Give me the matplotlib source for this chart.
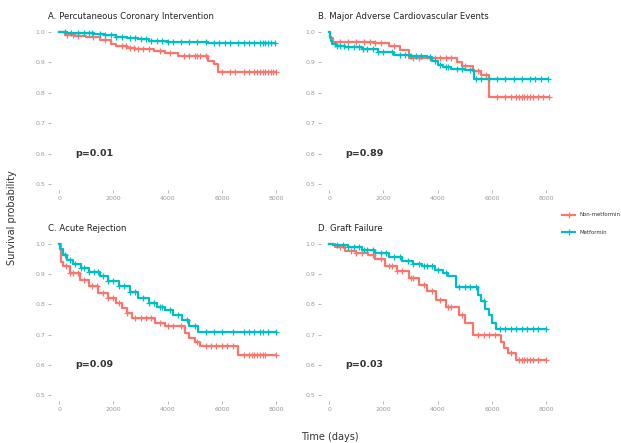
import numpy as np
import matplotlib
matplotlib.use('Agg')
import matplotlib.pyplot as plt

RED = '#F8766D'
CYAN = '#00BFC4'

titles = ['A. Percutaneous Coronary Intervention', 'B. Major Adverse Cardiovascular Events',
          'C. Acute Rejection', 'D. Graft Failure']
pvals = ['p=0.01', 'p=0.89', 'p=0.09', 'p=0.03']
groups = ['Non-metformin', 'Metformin']

# A. PCI
a_non_t = [0, 200, 600, 1000, 1500, 1900, 2100, 2500, 2800, 3500, 3900, 4400, 5500, 5700, 5860]
a_non_s = [1.0, 0.99, 0.988, 0.985, 0.975, 0.96, 0.955, 0.948, 0.943, 0.938, 0.931, 0.922, 0.905, 0.895, 0.87]
a_non_c = [300, 500, 700, 1250, 1700, 2300, 2450, 2600, 2750, 2900, 3100, 3300, 3700, 4100, 4600, 4800,
           5000, 5100, 5200, 5400, 6000, 6300, 6500, 6800, 7000, 7200, 7300, 7400, 7500, 7600, 7700,
           7800, 7900, 8000]
a_met_t = [0, 300, 800, 1300, 1700, 2100, 2500, 2900, 3300, 3700, 4000, 4600, 5500]
a_met_s = [1.0, 0.998, 0.996, 0.994, 0.99, 0.985, 0.98, 0.976, 0.972, 0.969, 0.967, 0.966, 0.965]
a_met_c = [200, 450, 700, 900, 1100, 1200, 1500, 1700, 1900, 2100, 2300, 2600, 2800, 3000, 3200, 3400,
           3600, 3800, 4000, 4200, 4500, 4800, 5100, 5400, 5700, 5900, 6100, 6300, 6600, 6800, 7000,
           7200, 7400, 7500, 7600, 7700, 7800, 7960]

# B. MACE
b_non_t = [0, 50, 150, 1700, 2200, 2600, 2950, 4700, 4900, 5300, 5600, 5900]
b_non_s = [1.0, 0.98, 0.967, 0.963, 0.955, 0.94, 0.915, 0.9, 0.887, 0.872, 0.858, 0.787]
b_non_c = [400, 700, 1000, 1300, 1500, 1700, 1900, 2400, 3100, 3300, 3700, 3900, 4100, 4300, 4500,
           5000, 5500, 5800, 6200, 6500, 6700, 6900, 7000, 7100, 7200, 7300, 7400, 7500, 7700, 7900, 8100]
b_met_t = [0, 20, 60, 120, 250, 600, 1200, 1800, 2400, 3000, 3600, 3800, 4000, 4200, 4500, 5000, 5330]
b_met_s = [1.0, 0.985, 0.97, 0.96, 0.955, 0.95, 0.945, 0.935, 0.925, 0.92, 0.918, 0.905, 0.893, 0.885,
           0.879, 0.875, 0.846]
b_met_c = [200, 300, 400, 550, 700, 900, 1100, 1250, 1400, 1600, 1800, 2000, 2300, 2600, 2800, 3000,
           3200, 3400, 3700, 3900, 4100, 4300, 4400, 4700, 4900, 5200, 5400, 5600, 5900, 6200, 6500,
           6800, 7100, 7400, 7600, 7800, 8050]

# C. Acute rejection
c_non_t = [0, 80, 150, 400, 780, 1100, 1440, 1800, 2100, 2320, 2500, 2700, 3540, 3900, 4650, 4800, 5010,
           5200, 6600]
c_non_s = [1.0, 0.94, 0.926, 0.905, 0.88, 0.86, 0.838, 0.82, 0.805, 0.788, 0.77, 0.755, 0.74, 0.727,
           0.705, 0.69, 0.675, 0.663, 0.634]
c_non_c = [250, 400, 500, 700, 900, 1200, 1400, 1600, 1800, 2000, 2200, 2500, 2800, 3000, 3200, 3400,
           3700, 4000, 4200, 4500, 5100, 5400, 5600, 5800, 6000, 6200, 6400, 6800, 7000, 7100, 7200, 7300,
           7400, 7500, 7600, 8000]
c_met_t = [0, 50, 150, 300, 500, 800, 1100, 1500, 1800, 2200, 2600, 2900, 3300, 3600, 3900, 4200, 4530,
           4800, 5120]
c_met_s = [1.0, 0.985, 0.965, 0.948, 0.935, 0.92, 0.908, 0.893, 0.877, 0.86, 0.84, 0.822, 0.805, 0.792,
           0.78, 0.765, 0.748, 0.73, 0.708]
c_met_c = [200, 400, 600, 800, 900, 1100, 1300, 1450, 1600, 1800, 2000, 2200, 2400, 2600, 2800, 3100,
           3300, 3500, 3700, 3800, 4100, 4400, 4700, 5000, 5400, 5700, 6000, 6400, 6800, 7000, 7200, 7400,
           7500, 7700, 8000]

# D. Graft failure
d_non_t = [0, 200, 600, 1000, 1440, 1700, 2070, 2500, 2930, 3300, 3600, 3930, 4300, 4780, 5000, 5300,
           6330, 6450, 6600, 6890]
d_non_s = [1.0, 0.99, 0.977, 0.97, 0.965, 0.95, 0.927, 0.91, 0.887, 0.865, 0.845, 0.816, 0.79, 0.766,
           0.74, 0.70, 0.675, 0.656, 0.64, 0.615]
d_non_c = [400, 800, 1000, 1200, 1600, 1900, 2200, 2300, 2500, 2700, 3000, 3100, 3500, 3800, 4100, 4400,
           4500, 4900, 5500, 5700, 5900, 6100, 6700, 7000, 7100, 7200, 7300, 7400, 7500, 7700, 8000]
d_met_t = [0, 150, 700, 1200, 1700, 2200, 2700, 3100, 3440, 3900, 4200, 4400, 4670, 5480, 5600, 5750,
           5890, 6000, 6150]
d_met_s = [1.0, 0.998, 0.99, 0.98, 0.97, 0.958, 0.945, 0.935, 0.927, 0.915, 0.905, 0.894, 0.857, 0.83,
           0.81, 0.785, 0.765, 0.74, 0.72]
d_met_c = [300, 500, 700, 900, 1100, 1300, 1400, 1600, 1900, 2100, 2400, 2600, 2900, 3100, 3300, 3500,
           3600, 3800, 4000, 4300, 4800, 5000, 5200, 5400, 5700, 6300, 6500, 6700, 6900, 7100, 7300, 7500,
           7700, 8000]

panels = [
    [(a_non_t, a_non_s, a_non_c), (a_met_t, a_met_s, a_met_c)],
    [(b_non_t, b_non_s, b_non_c), (b_met_t, b_met_s, b_met_c)],
    [(c_non_t, c_non_s, c_non_c), (c_met_t, c_met_s, c_met_c)],
    [(d_non_t, d_non_s, d_non_c), (d_met_t, d_met_s, d_met_c)],
]

W, H = 621, 443
fig = plt.figure(figsize=(W / 100, H / 100), dpi=100)

# axes boxes in pixels: left, top, right, bottom
boxes = [(51, 26, 287, 190), (321, 26, 557, 190), (51, 238, 287, 401), (321, 238, 557, 401)]


def km(ax, t, s, c, color):
    end = c[-1]
    ax.step(list(t) + [end], list(s) + [s[-1]], where='post', color=color, lw=1.6)
    c = np.array(c)
    idx = np.searchsorted(t, c, side='right') - 1
    ax.plot(c, np.array(s)[idx], ls='none', marker='+', ms=4.5, mew=0.9, color=color)


for i, (l, t, r, b) in enumerate(boxes):
    ax = fig.add_axes([l / W, (H - b) / H, (r - l) / W, (b - t) / H])
    for (tt, ss, cc), col in zip(panels[i], [RED, CYAN]):
        km(ax, tt, ss, cc, col)
    ax.set_xlim(-300, 8400)
    ax.set_ylim(0.48, 1.02)
    ax.set_xticks([0, 2000, 4000, 6000, 8000])
    ax.set_yticks([0.5, 0.6, 0.7, 0.8, 0.9, 1.0])
    ax.set_yticklabels(['0.5', '0.6', '0.7', '0.8', '0.9', '1.0'])
    ax.tick_params(labelsize=4.5, colors='#9a9a9a', length=2, width=0.5, pad=2)
    for sp in ax.spines.values():
        sp.set_visible(False)
    ax.text(-0.012, 1.03, titles[i], transform=ax.transAxes, fontsize=6.1, color='#222222',
            ha='left', va='bottom')
    ax.text(600, 0.6, pvals[i], fontsize=6.8, fontweight='bold', color='#333333',
            ha='left', va='center')

fig.text(12 / W, 1 - 218 / H, 'Survival probability', rotation=90, fontsize=7,
         color='#333333', ha='center', va='center')
fig.text(330 / W, 1 - 437 / H, 'Time (days)', fontsize=7, color='#333333', ha='center', va='center')

# legend
for k, (g, col) in enumerate(zip(groups, [RED, CYAN])):
    y = 1 - (215 + k * 17) / H
    fig.lines.append(plt.Line2D([562 / W, 575 / W], [y, y], color=col, lw=1.5, transform=fig.transFigure))
    fig.lines.append(plt.Line2D([568.5 / W], [y], color=col, marker='+', ms=4.5, mew=0.9,
                                transform=fig.transFigure))
    fig.text(579 / W, y, g, fontsize=3.9, color='#333333', ha='left', va='center')

fig.savefig('out.png', dpi=100)
